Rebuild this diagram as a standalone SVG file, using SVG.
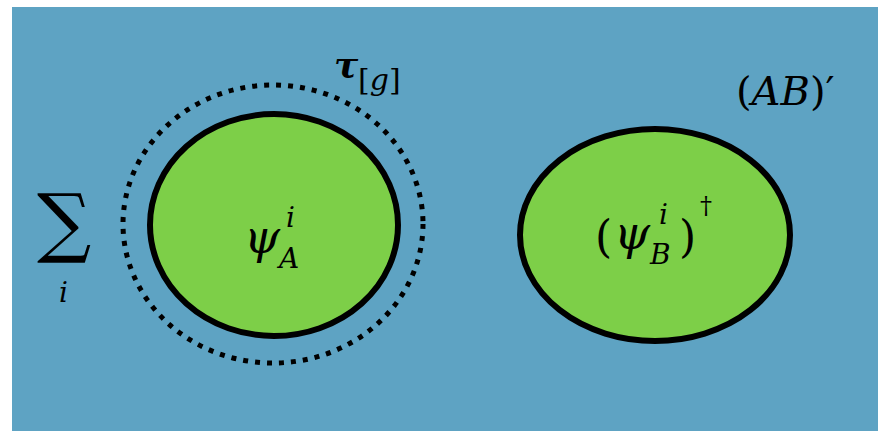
<svg xmlns="http://www.w3.org/2000/svg" width="878" height="431" viewBox="0 0 878 431">
<style>
.bg{fill:#5ea3c3}
.blob{fill:#7dcf48;stroke:#000;stroke-width:6}
.dots{fill:none;stroke:#000;stroke-width:5;stroke-dasharray:5 7}
.t{font-family:'DejaVu Serif',serif;fill:#000}
.it{font-style:italic}
</style>
<rect width="878" height="431" fill="#ffffff"/>
<rect class="bg" x="12" y="7" width="866" height="424"/>
<g id="tau">
<ellipse class="dots" cx="273" cy="224" rx="150" ry="139"/>
<text class="t it" x="334" y="77" font-size="36" font-weight="bold">τ</text>
<text class="t" x="358" y="90" font-size="30">[<tspan class="it">g</tspan>]</text>
</g>
<g id="psiA">
<ellipse class="blob" cx="274" cy="225" rx="124" ry="111"/>
<text class="t it" x="244" y="253" font-size="46">ψ</text>
<text class="t it" x="286" y="227" font-size="28">i</text>
<text class="t it" x="279" y="268" font-size="28">A</text>
</g>
<g id="psiB">
<ellipse class="blob" cx="655" cy="235" rx="135" ry="106"/>
<text class="t" x="595" y="252" font-size="44">(</text>
<text class="t it" x="614" y="249" font-size="46">ψ</text>
<text class="t it" x="659" y="224" font-size="28">i</text>
<text class="t it" x="650" y="264" font-size="28">B</text>
<text class="t" x="679" y="252" font-size="44">)</text>
<text class="t" x="700" y="214" font-size="24">†</text>
</g>
<g id="sum">
<text class="t" x="37" y="248" font-size="76">∑</text>
<text class="t it" x="59" y="302" font-size="28">i</text>
</g>
<g id="AB">
<text class="t" x="736" y="105" font-size="40">(<tspan class="it">AB</tspan>)′</text>
</g>
<g id="connectors"></g>
</svg>
